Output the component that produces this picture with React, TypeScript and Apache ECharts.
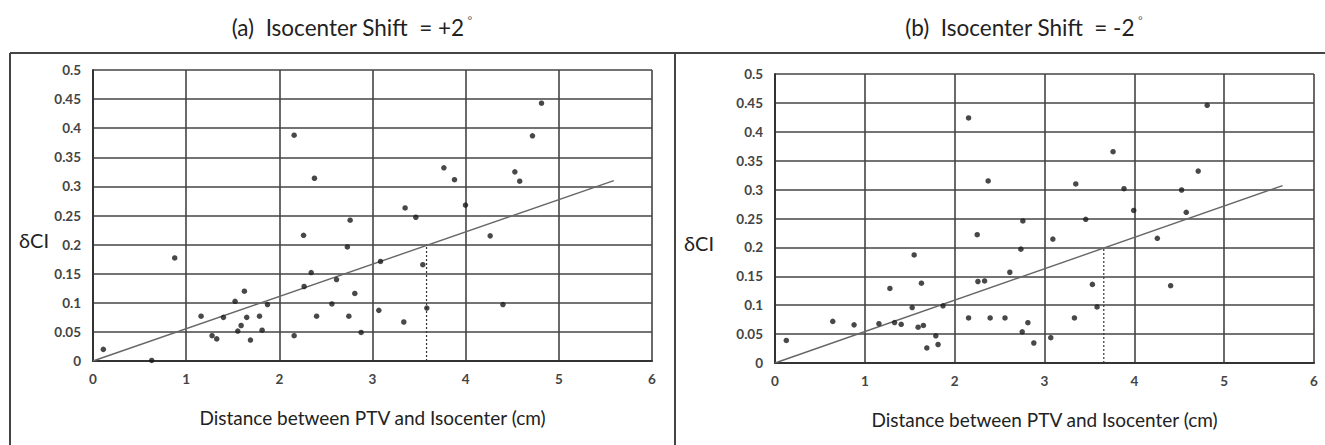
import React, { useEffect, useRef } from "react";
import * as echarts from "echarts";

// Panel titles and axis names
const titleA = "(a)  Isocenter Shift  = +2";
const titleB = "(b)  Isocenter Shift  = -2";
const xName = "Distance between PTV and Isocenter (cm)";
const yName = "δCI";

// Axis ranges
const xMin = 0, xMax = 6, xStep = 1;
const yMin = 0, yMax = 0.5, yStep = 0.05;

// Panel (a): +2°
const aX = [0.111, 0.63, 0.877, 1.16, 1.278, 1.328, 1.40, 1.525, 1.554, 1.59, 1.625, 1.65, 1.69, 1.787, 1.815, 1.873,
  2.159, 2.159, 2.26, 2.266, 2.342, 2.377, 2.40, 2.564, 2.614, 2.73, 2.746, 2.76, 2.81, 2.878,
  3.068, 3.086, 3.336, 3.35, 3.465, 3.54, 3.583, 3.766, 3.88, 3.998, 4.263, 4.40, 4.528, 4.58, 4.717, 4.814];
const aY = [0.020, 0.001, 0.177, 0.077, 0.0435, 0.038, 0.075, 0.1025, 0.0515, 0.061, 0.120, 0.075, 0.036, 0.077, 0.053, 0.097,
  0.388, 0.0435, 0.216, 0.128, 0.152, 0.314, 0.077, 0.098, 0.140, 0.196, 0.077, 0.242, 0.116, 0.049,
  0.087, 0.171, 0.067, 0.263, 0.247, 0.1655, 0.091, 0.332, 0.3115, 0.268, 0.215, 0.097, 0.325, 0.309, 0.387, 0.443];
const aFitX = [0, 5.59];
const aFitY = [0, 0.31];
const aCutX = 3.58;

// Panel (b): -2°
const bX = [0.126, 0.643, 0.88, 1.157, 1.279, 1.331, 1.405, 1.527, 1.549, 1.593, 1.63, 1.652, 1.69, 1.79, 1.815, 1.87,
  2.155, 2.155, 2.251, 2.259, 2.333, 2.373, 2.395, 2.56, 2.614, 2.737, 2.752, 2.759, 2.815, 2.881,
  3.07, 3.093, 3.333, 3.348, 3.459, 3.533, 3.585, 3.763, 3.885, 3.993, 4.256, 4.404, 4.526, 4.578, 4.711, 4.811];
const bY = [0.039, 0.072, 0.066, 0.068, 0.129, 0.070, 0.067, 0.096, 0.187, 0.062, 0.138, 0.065, 0.026, 0.047, 0.032, 0.099,
  0.424, 0.078, 0.222, 0.141, 0.142, 0.315, 0.078, 0.078, 0.157, 0.197, 0.054, 0.2457, 0.0698, 0.0346,
  0.0438, 0.2145, 0.0779, 0.3097, 0.2486, 0.136, 0.097, 0.3656, 0.3016, 0.264, 0.2157, 0.1338, 0.2993, 0.2607, 0.332, 0.4458];
const bFitX = [0, 5.65];
const bFitY = [0, 0.307];
const bCutX = 3.66;

const cutY = 0.2;

const FONT = "Lato, 'Open Sans', sans-serif";

export default function App() {
  const ref = useRef<HTMLDivElement>(null);

  useEffect(() => {
    if (!ref.current) return;
    const chart = echarts.init(ref.current, undefined, { renderer: "svg" });

    const xAxisBase = (gi: number) => ({
      type: "value" as const,
      gridIndex: gi,
      min: xMin,
      max: xMax,
      interval: xStep,
      axisLine: { show: true, onZero: false, lineStyle: { color: "#333", width: 2.2 } },
      axisTick: { show: false },
      axisLabel: { margin: 11, color: "#444", fontSize: 13.5, fontWeight: "bold" as const, fontFamily: FONT },
      splitLine: { show: true, lineStyle: { color: "#444", width: 1.6 } },
      name: xName,
      nameLocation: "middle" as const,
      nameGap: 47,
      nameTextStyle: { color: "#222", fontSize: 19, fontFamily: FONT },
    });
    const yAxisBase = (gi: number) => ({
      type: "value" as const,
      gridIndex: gi,
      min: yMin,
      max: yMax,
      interval: yStep,
      axisLine: { show: true, lineStyle: { color: "#333", width: 2 } },
      axisTick: { show: false },
      axisLabel: { margin: 12, color: "#444", fontSize: 13.5, fontWeight: "bold" as const, fontFamily: FONT },
      splitLine: { show: true, lineStyle: { color: "#444", width: 1.6 } },
    });

    const pts = (xs: number[], ys: number[]) => xs.map((x, i) => [x, ys[i]]);

    const scatterStyle = { color: "#1a1a1a" };

    chart.setOption({
      animation: false,
      backgroundColor: "#fff",
      grid: [
        { left: 93, top: 70, width: 559, height: 291 },
        { left: 775, top: 74, width: 539, height: 289 },
      ],
      xAxis: [xAxisBase(0), xAxisBase(1)],
      yAxis: [yAxisBase(0), yAxisBase(1)],
      series: [
        {
          type: "line", xAxisIndex: 0, yAxisIndex: 0,
          data: pts(aFitX, aFitY), showSymbol: false, symbol: "none",
          lineStyle: { color: "#666", width: 1.4 }, z: 3,
        },
        {
          type: "line", xAxisIndex: 0, yAxisIndex: 0,
          data: [[aCutX, 0], [aCutX, cutY]], showSymbol: false, symbol: "none",
          lineStyle: { color: "#333", width: 1.2, type: [2, 2] }, z: 3,
        },
        {
          type: "scatter", xAxisIndex: 0, yAxisIndex: 0,
          data: pts(aX, aY), symbolSize: 5.5, itemStyle: scatterStyle, z: 4,
        },
        {
          type: "line", xAxisIndex: 1, yAxisIndex: 1,
          data: pts(bFitX, bFitY), showSymbol: false, symbol: "none",
          lineStyle: { color: "#666", width: 1.4 }, z: 3,
        },
        {
          type: "line", xAxisIndex: 1, yAxisIndex: 1,
          data: [[bCutX, 0], [bCutX, cutY]], showSymbol: false, symbol: "none",
          lineStyle: { color: "#333", width: 1.2, type: [2, 2] }, z: 3,
        },
        {
          type: "scatter", xAxisIndex: 1, yAxisIndex: 1,
          data: pts(bX, bY), symbolSize: 5.5, itemStyle: scatterStyle, z: 4,
        },
      ],
      graphic: [
        { type: "line", shape: { x1: 10, y1: 53, x2: 1325, y2: 53 }, style: { stroke: "#444", lineWidth: 2 } },
        { type: "line", shape: { x1: 10, y1: 53, x2: 10, y2: 445 }, style: { stroke: "#444", lineWidth: 2 } },
        { type: "line", shape: { x1: 675, y1: 53, x2: 675, y2: 445 }, style: { stroke: "#444", lineWidth: 2 } },
        {
          type: "text", x: 352, y: 27,
          style: {
            text: titleA + "{d|°}", fill: "#222", fontSize: 22.5, fontFamily: FONT,
            align: "center", verticalAlign: "middle",
            rich: { d: { fontSize: 13, fill: "#555", padding: [0, 0, 14, 3] } },
          },
        },
        {
          type: "text", x: 1024, y: 27,
          style: {
            text: titleB + "{d|°}", fill: "#222", fontSize: 22.5, fontFamily: FONT,
            align: "center", verticalAlign: "middle",
            rich: { d: { fontSize: 13, fill: "#555", padding: [0, 0, 14, 3] } },
          },
        },
        {
          type: "text", x: 34, y: 240,
          style: { text: yName, fill: "#222", fontSize: 20, fontFamily: FONT, align: "center", verticalAlign: "middle" },
        },
        {
          type: "text", x: 699, y: 243,
          style: { text: yName, fill: "#222", fontSize: 20, fontFamily: FONT, align: "center", verticalAlign: "middle" },
        },
      ],
    });

    return () => chart.dispose();
  }, []);

  return (
    <div
      ref={ref}
      style={{ position: "fixed", left: 0, top: 0, width: 1325, height: 445, background: "#fff" }}
    />
  );
}
